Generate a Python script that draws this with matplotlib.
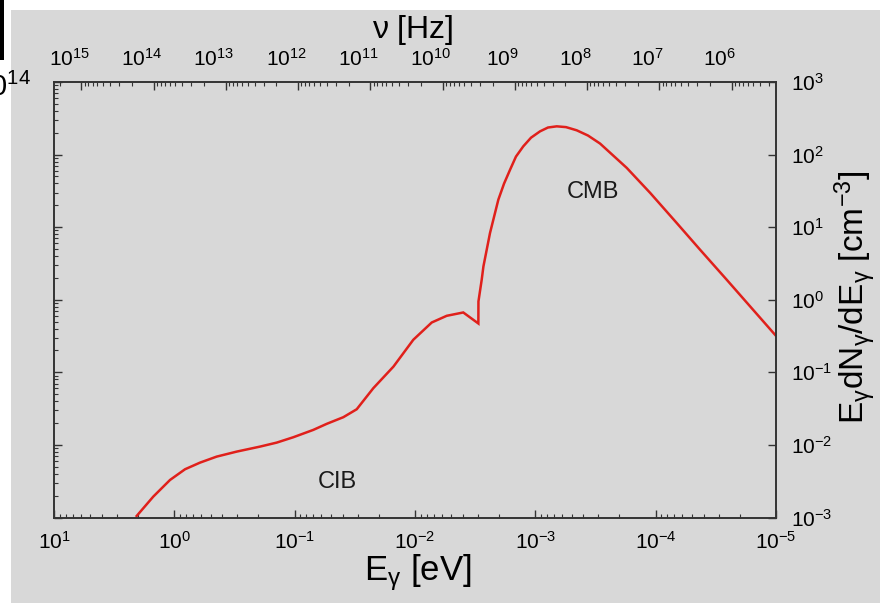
import matplotlib
matplotlib.use("Agg")
import matplotlib.pyplot as plt
import matplotlib.ticker as mticker
from matplotlib.patches import Rectangle
from matplotlib.transforms import ScaledTranslation

plt.rcParams['font.family'] = ['Liberation Sans', 'DejaVu Sans']
plt.rcParams['mathtext.fontset'] = 'custom'
plt.rcParams['mathtext.rm'] = 'Liberation Sans'
plt.rcParams['mathtext.it'] = 'Liberation Sans:italic'
plt.rcParams['mathtext.bf'] = 'Liberation Sans:bold'
plt.rcParams['mathtext.default'] = 'regular'

# ---- data (photon energy in eV, number density in cm^-3) ----
energy_ev = [2.056, 1.496, 1.086, 0.815, 0.612, 0.445, 0.303, 0.194, 0.141,
             0.1026, 0.0700, 0.0542, 0.0394, 0.0305, 0.0222, 0.0151, 0.01033,
             7.26e-3, 5.45e-3, 3.97e-3, 2.975e-3, 2.97e-3, 2.79e-3, 2.70e-3,
             2.38e-3, 2.03e-3, 1.82e-3, 1.62e-3, 1.449e-3, 1.259e-3, 1.086e-3,
             9.14e-4, 7.85e-4, 6.64e-4, 5.56e-4, 4.53e-4, 3.65e-4,
             2.90e-4, 1.74e-4, 1.11e-4, 6.68e-5, 4.28e-5, 2.57e-5, 1.64e-5, 1.0e-5]
density = [1.05e-3, 1.94e-3, 3.29e-3, 4.62e-3, 5.70e-3, 6.90e-3, 8.09e-3, 9.48e-3,
           1.076e-2, 1.276e-2, 1.611e-2, 1.95e-2, 2.41e-2, 3.10e-2, 6.05e-2, 0.120,
           0.281, 0.486, 0.601, 0.668, 0.471, 0.948, 1.89, 2.88, 8.32, 23.9, 39.8,
           62.1, 93.8, 130, 171, 209, 236, 245, 239, 216, 183,
           142, 65.6, 29.6, 11.4, 4.90, 1.89, 0.809, 0.318]

e_limits = [1e1, 1e-5]
nu_limits = [10**15.38, 10**5.385]
n_limits = [1e-3, 1e3]

region_labels = ['CMB', 'CIB']
region_pos = [(3.32e-4, 30.9), (0.0445, 3.09e-3)]

gray = '#d8d8d8'
axcol = '#333333'

fig = plt.figure(figsize=(8.8, 6.03), dpi=100, facecolor='white')
# gray panel (white margin on the top and left)
fig.patches.append(Rectangle((10.5 / 880, 0), 1, 1 - 9.5 / 603,
                             transform=fig.transFigure, facecolor=gray,
                             edgecolor='none', zorder=-5))
fig.patches.append(Rectangle((0, 1 - 60 / 603), 4 / 880, 60 / 603,
                             transform=fig.transFigure, facecolor='black',
                             edgecolor='none', zorder=-4))
fig.text(31 / 880, 1 - 87 / 603, r'$10^{14}$', ha='right', va='center',
         fontsize=21, color='black')

ax = fig.add_axes([54 / 880, 1 - 517.5 / 603, 722 / 880, 435.5 / 603])
ax.set_facecolor(gray)
ax.plot(energy_ev, density, color='#e0201b', lw=1.8, solid_joinstyle='miter')
ax.set_xscale('log')
ax.set_yscale('log')
ax.set_xlim(e_limits)
ax.set_ylim(n_limits)

for lab, (xx, yy) in zip(region_labels, region_pos):
    ax.text(xx, yy, lab, ha='center', va='center', fontsize=17, color='#1a1a1a')

major = mticker.LogLocator(base=10, numticks=30)
minor = mticker.LogLocator(base=10, subs=range(2, 10), numticks=30)
ax.xaxis.set_major_locator(major)
ax.xaxis.set_minor_locator(minor)
ax.xaxis.set_minor_formatter(mticker.NullFormatter())
ax.yaxis.set_major_locator(mticker.LogLocator(base=10, numticks=30))
ax.yaxis.set_minor_locator(mticker.LogLocator(base=10, subs=range(2, 10), numticks=30))
ax.yaxis.set_minor_formatter(mticker.NullFormatter())

ax.tick_params(axis='both', which='both', direction='in', color=axcol,
               labelcolor='black', labelsize=15)
ax.tick_params(axis='both', which='major', length=5.5, width=1)
ax.tick_params(axis='both', which='minor', length=3, width=0.8)
ax.tick_params(axis='y', left=True, right=True, labelleft=False, labelright=True,
               pad=11)
ax.tick_params(axis='x', bottom=True, top=False, pad=10)
for s in ax.spines.values():
    s.set_color(axcol)
    s.set_linewidth(1.2)

ax.set_xlabel(r'E$_{\gamma}$ [eV]', fontsize=25)
ax.xaxis.set_label_coords(0.504, -0.080)
ax.yaxis.set_label_position('right')
ax.set_ylabel(r'E$_{\gamma}$dN$_{\gamma}$/dE$_{\gamma}$ [cm$^{-3}$]', fontsize=24,
              rotation=90)
ax.yaxis.set_label_coords(1.079, 0.505)

# top frequency axis
ax2 = ax.twiny()
ax2.set_xscale('log')
ax2.set_xlim(nu_limits)
ax2.xaxis.set_major_locator(mticker.LogLocator(base=10, numticks=30))
ax2.xaxis.set_minor_locator(mticker.LogLocator(base=10, subs=range(2, 10), numticks=30))
ax2.xaxis.set_minor_formatter(mticker.NullFormatter())
ax2.tick_params(axis='x', which='both', direction='in', color=axcol,
                labelsize=15, pad=8.5)
ax2.tick_params(axis='x', which='major', length=5.5, width=1)
ax2.tick_params(axis='x', which='minor', length=3, width=0.8)
for s in ax2.spines.values():
    s.set_color(axcol)
    s.set_linewidth(1.2)
ax2.set_xlabel(r'$\nu$ [Hz]', fontsize=23)
ax2.xaxis.set_label_coords(0.497, 1.10)

fig.canvas.draw()
shift = ScaledTranslation(-12 / 100, 0, fig.dpi_scale_trans)
for t in ax2.get_xticklabels():
    t.set_transform(t.get_transform() + shift)

fig.savefig('out.png', dpi=100, facecolor='white')
